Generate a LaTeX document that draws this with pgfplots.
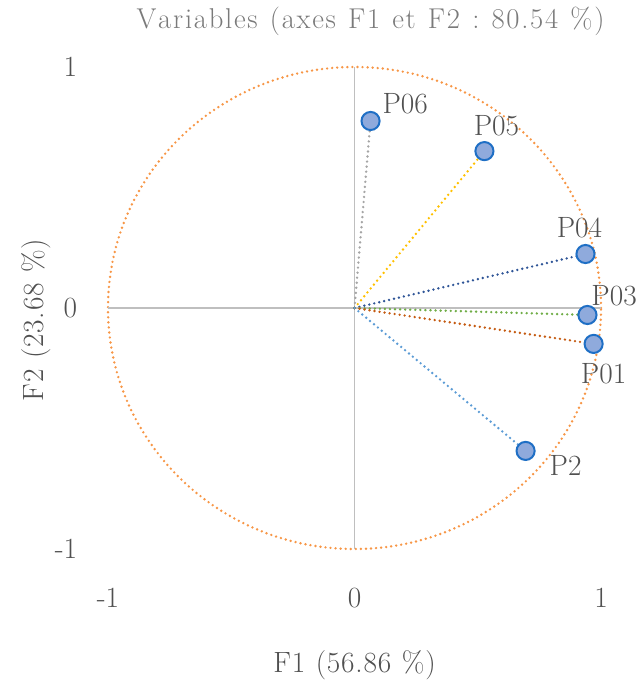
\documentclass[border=0pt]{standalone}
\usepackage{pgfplots}
\pgfplotsset{compat=1.18}
\definecolor{txt}{HTML}{505050}
\definecolor{ttl}{HTML}{7A7A7A}
\definecolor{axg}{HTML}{BFBFBF}
\definecolor{circ}{HTML}{F79646}
\definecolor{cgray}{HTML}{A5A5A5}
\definecolor{cgold}{HTML}{FFC000}
\definecolor{cdblue}{HTML}{2F5597}
\definecolor{cgreen}{HTML}{70AD47}
\definecolor{cdorange}{HTML}{C55A11}
\definecolor{clblue}{HTML}{5B9BD5}
\definecolor{mfill}{HTML}{8FAADC}
\definecolor{medge}{HTML}{1F6FC5}
\newdimen\lsamt
\def\spaced#1#2{\lsamt=#1\relax\spacedi#2\endspaced}
\def\spacedi#1#2\endspaced{#1\ifx\relax#2\relax\else\kern\lsamt\spacedi#2\endspaced\fi}
\tikzset{dots/.style={line width=2pt, line cap=round, dash pattern=on 0pt off 3.8pt}}
\pgfplotsset{pt/.style={only marks, mark=*, mark size=6.8pt,
  mark options={fill=mfill, draw=medge, line width=1.5pt},
  nodes near coords={#1}, every node near coord/.append style={font=\fontsize{22}{24}\selectfont, text=txt, anchor=center}}}
\begin{document}
\begin{tikzpicture}
\begin{axis}[name=ax, width=369.75pt, height=361.5pt, scale only axis,
  xmin=-1, xmax=1, ymin=-1, ymax=1, clip=false,
  axis line style={draw=none}, major tick length=0pt,
  xtick={-1,0,1}, ytick={-1,0,1},
  xticklabels={-1,0,1}, yticklabels={-1,0,1},
  ticklabel style={font=\fontsize{22}{24}\selectfont, text=txt, inner sep=0pt},
  xticklabel style={anchor=north, yshift=-29pt},
  yticklabel style={anchor=east, xshift=-23pt},
  ]
\draw[circ, dots] (axis cs:0,0) ellipse [x radius=1, y radius=1];
\addplot[axg, line width=1.4pt] coordinates {(-1,0) (1,0)};
\addplot[axg, line width=1.4pt] coordinates {(0,-1) (0,1)};
\addplot[cgray, dots] coordinates {(0,0) (0.065,0.776)};
\addplot[cgold, dots] coordinates {(0,0) (0.527,0.651)};
\addplot[cdblue, dots] coordinates {(0,0) (0.937,0.224)};
\addplot[cgreen, dots] coordinates {(0,0) (0.945,-0.029)};
\addplot[cdorange, dots] coordinates {(0,0) (0.970,-0.149)};
\addplot[clblue, dots] coordinates {(0,0) (0.694,-0.593)};
\addplot[pt={P06}, every node near coord/.append style={xshift=26pt, yshift=13pt}] coordinates {(0.065,0.776)};
\addplot[pt={P05}, every node near coord/.append style={xshift=9pt, yshift=19pt}] coordinates {(0.527,0.651)};
\addplot[pt={P04}, every node near coord/.append style={xshift=-4.5pt, yshift=20pt}] coordinates {(0.937,0.224)};
\addplot[pt={P03}, every node near coord/.append style={xshift=20pt, yshift=14.5pt}] coordinates {(0.945,-0.029)};
\addplot[pt={P01}, every node near coord/.append style={xshift=7.5pt, yshift=-22pt}] coordinates {(0.970,-0.149)};
\addplot[pt={P2}, every node near coord/.append style={xshift=30pt, yshift=-11pt}] coordinates {(0.694,-0.593)};
\node[font=\fontsize{21.5}{24}\selectfont, text=ttl] at (rel axis cs:0.5325,1.094) {\spaced{1.3pt}{Variables~(axes~F1~et~F2~:~80.54~\%)}};
\node[font=\fontsize{22}{24}\selectfont, text=txt] at (rel axis cs:0.5,-0.2407) {\spaced{0.6pt}{F1~(56.86~\%)}};
\node[font=\fontsize{22}{24}\selectfont, text=txt, rotate=90] at (rel axis cs:-0.146,0.475) {\spaced{0.6pt}{F2~(23.68~\%)}};
\coordinate (bbsw) at (rel axis cs:-0.2191,-0.2946);
\coordinate (bbne) at (rel axis cs:1.0791,1.139);
\end{axis}
\pgfresetboundingbox
\path[use as bounding box] (bbsw) rectangle (bbne);
\end{tikzpicture}
\end{document}
